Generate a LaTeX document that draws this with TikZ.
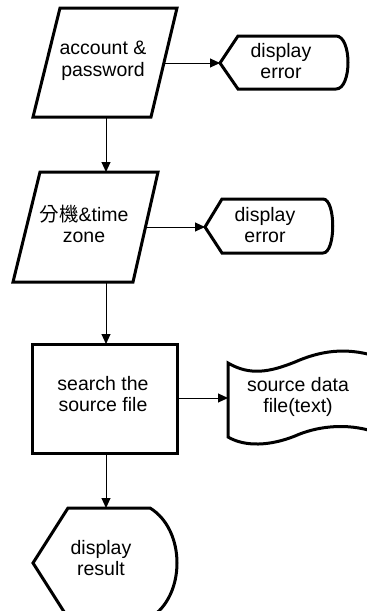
\documentclass[tikz,border=0pt]{standalone}
\usepackage{fontspec}
\setmainfont{Liberation Sans}
\newfontfamily\cjk{Noto Sans CJK TC}
\usetikzlibrary{arrows.meta}

\tikzset{
  shapeline/.style={line width=3pt, line join=miter, fill=white},
  label/.style={align=center, inner sep=0pt, font=\fontsize{19.5}{21.5}\selectfont},
  flow/.style={line width=1pt, -{Triangle[length=10pt,width=9pt]}},
}

\begin{document}
\begin{tikzpicture}[x=1pt,y=-1pt]
  \clip (0,0) rectangle (367,611);
  \fill[white] (0,0) rectangle (367,611);

  % input: account & password
  \draw[shapeline] (60,8) -- (177,8) -- (151,117) -- (33,117) -- cycle;
  \node[label] (acc) at (103,61) {account \&\\password};
  \coordinate (accR) at (164,63);
  \coordinate (accB) at (106,117);

  % display: error (first)
  \draw[shapeline] (220,63) -- (238,36) -- (336,36)
    .. controls (352,36) and (352,89) .. (336,89) -- (238,89) -- cycle;
  \node[label] (err1) at (281,61) {display\\error};
  \coordinate (err1L) at (220,63);

  % input: extension & time zone
  \draw[shapeline] (40,172) -- (158,172) -- (133,282) -- (13,282) -- cycle;
  \node[label] (ext) at (84,224) {{\cjk 分機}\&time\\zone};
  \coordinate (extT) at (106,172);
  \coordinate (extR) at (146,227);
  \coordinate (extB) at (106,282);

  % display: error (second)
  \draw[shapeline] (205,227) -- (222,199) -- (323,199)
    .. controls (336,199) and (336,253) .. (323,253) -- (222,253) -- cycle;
  \node[label] (err2) at (265,225) {display\\error};
  \coordinate (err2L) at (205,227);

  % process: search the source file
  \draw[shapeline] (32,344) rectangle (177,453);
  \node[label] (srch) at (103,394) {search the\\source file};
  \coordinate (srchT) at (106,344);
  \coordinate (srchR) at (177,398);
  \coordinate (srchB) at (106,453);

  % document: source data file
  \draw[shapeline] (228,363)
    .. controls (250,376) and (270,372) .. (295,362)
    .. controls (320,351) and (345,347) .. (375,356)
    -- (375,432)
    .. controls (345,422) and (315,427) .. (295,436)
    .. controls (270,446) and (245,447) .. (228,437) -- cycle;
  \node[label] (src) at (298,397) {source data\\file(text)};
  \coordinate (srcL) at (228,398);

  % display: result
  \draw[shapeline] (33,563) -- (68,508) -- (150,508)
    .. controls (186,530) and (186,596) .. (150,618) -- (68,618) -- cycle;
  \node[label] (res) at (101,558) {display\\result};
  \coordinate (resT) at (106,508);

  % connectors
  \draw[flow] (accR) -- (err1L);
  \draw[flow] (accB) -- (extT);
  \draw[flow] (extR) -- (err2L);
  \draw[flow] (extB) -- (srchT);
  \draw[flow] (srchR) -- (srcL);
  \draw[flow] (srchB) -- (resT);
\end{tikzpicture}
\end{document}
